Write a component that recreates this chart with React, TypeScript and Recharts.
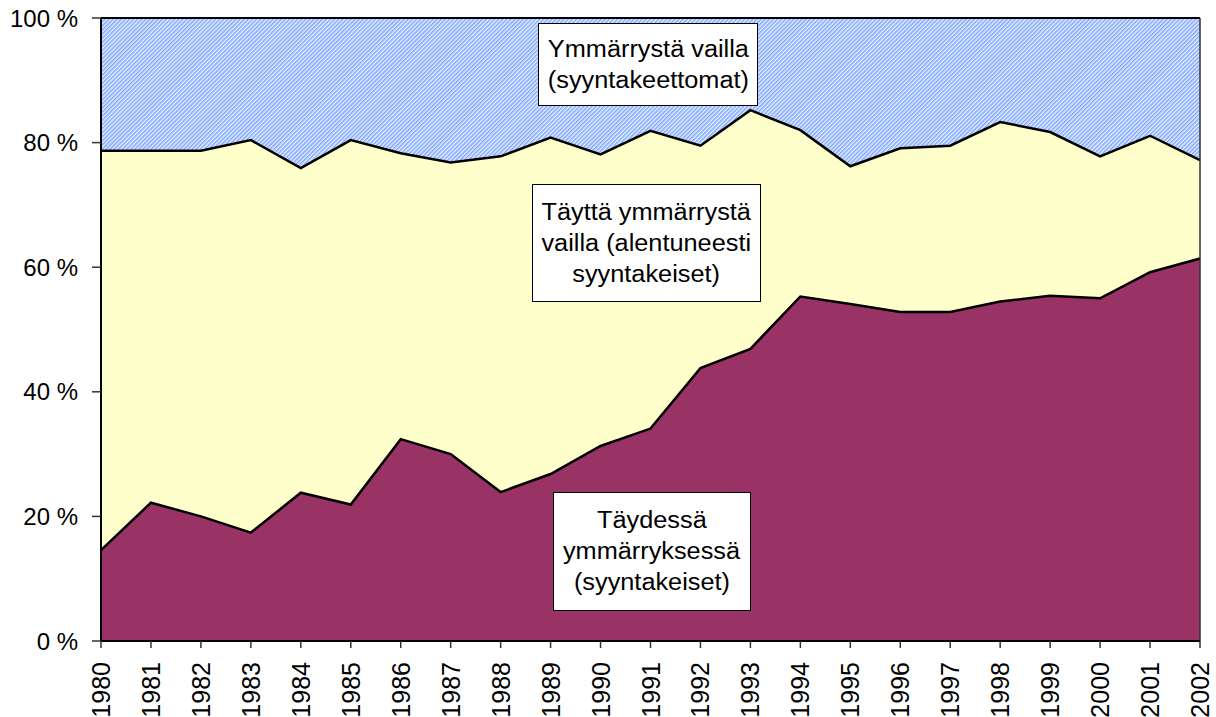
import { ComposedChart, Area, Line, XAxis, YAxis, ReferenceLine } from 'recharts'

const years = ['1980', '1981', '1982', '1983', '1984', '1985', '1986', '1987', '1988', '1989', '1990', '1991',
  '1992', '1993', '1994', '1995', '1996', '1997', '1998', '1999', '2000', '2001', '2002']

// shares in percent, bottom to top
const full = [14.6, 22.2, 20.0, 17.4, 23.8, 21.9, 32.4, 30.0, 23.9, 26.8, 31.3, 34.1, 43.8, 46.9, 55.3, 54.1, 52.8,
  52.8, 54.5, 55.4, 55.0, 59.2, 61.4]
const reduced = [64.1, 56.5, 58.7, 63.0, 52.1, 58.5, 45.9, 46.8, 53.9, 54.0, 46.8, 47.8, 35.7, 38.3, 26.7, 22.1, 26.3,
  26.7, 28.8, 26.3, 22.8, 21.9, 15.8]
const none = [21.3, 21.3, 21.3, 19.6, 24.1, 19.6, 21.7, 23.2, 22.2, 19.2, 21.9, 18.1, 20.5, 14.8, 18.0, 23.8, 20.9,
  20.5, 16.7, 18.3, 22.2, 18.9, 22.8]

const yTicks = [0, 20, 40, 60, 80, 100]

const labels = [
  { lines: ['Ymmärrystä vailla', '(syyntakeettomat)'], left: 538, top: 23, width: 220, height: 83 },
  { lines: ['Täyttä ymmärrystä', 'vailla (alentuneesti', 'syyntakeiset)'], left: 532, top: 184, width: 229, height: 118 },
  { lines: ['Täydessä', 'ymmärryksessä', '(syyntakeiset)'], left: 553, top: 492, width: 198, height: 119 },
]

const data = years.map((year, i) => ({
  year,
  full: full[i],
  reduced: reduced[i],
  none: none[i],
  edge1: full[i],
  edge2: full[i] + reduced[i],
}))

const font = '"Liberation Sans", Arial, sans-serif'

function YearTick({ x, y, payload }: any) {
  return (
    <g transform={`translate(${x},${y})`}>
      <text transform="rotate(-90)" textAnchor="end" dy="0.36em" fontSize={25} fill="#000" fontFamily={font}>
        {payload.value}
      </text>
    </g>
  )
}

export default function App() {
  return (
    <div style={{ position: 'absolute', left: 0, top: 0, width: 1216, height: 717, background: '#fff' }}>
      <ComposedChart width={1216} height={717} data={data} margin={{ top: 18, right: 16, bottom: 0, left: 0 }}>
        <defs>
          <pattern id="hatch" patternUnits="userSpaceOnUse" width={2.9} height={2.9} patternTransform="rotate(45)">
            <rect width={2.9} height={2.9} fill="#CCFFFF" />
            <rect width={1.5} height={2.9} fill="#9999FF" />
          </pattern>
        </defs>
        <XAxis
          dataKey="year"
          height={76}
          interval={0}
          tick={<YearTick />}
          tickSize={7}
          tickMargin={14}
          axisLine={{ stroke: '#000', strokeWidth: 2 }}
          tickLine={{ stroke: '#333', strokeWidth: 1.5 }}
        />
        <YAxis
          width={101}
          domain={[0, 100]}
          ticks={yTicks}
          tickFormatter={(v) => `${v} %`}
          tickSize={9}
          tickMargin={14}
          tick={{ fontSize: 24, fill: '#000', fontFamily: font }}
          axisLine={{ stroke: '#000', strokeWidth: 2 }}
          tickLine={{ stroke: '#333', strokeWidth: 1.5 }}
        />
        <Area type="linear" dataKey="full" stackId="a" fill="#993366" fillOpacity={1} stroke="none" isAnimationActive={false} />
        <Area type="linear" dataKey="reduced" stackId="a" fill="#FFFFCC" fillOpacity={1} stroke="none" isAnimationActive={false} />
        <Area type="linear" dataKey="none" stackId="a" fill="url(#hatch)" fillOpacity={1} stroke="none" isAnimationActive={false} />
        <Line type="linear" dataKey="edge1" stroke="#000" strokeWidth={2.5} dot={false} activeDot={false} isAnimationActive={false} />
        <Line type="linear" dataKey="edge2" stroke="#000" strokeWidth={2.5} dot={false} activeDot={false} isAnimationActive={false} />
        <ReferenceLine y={100} stroke="#000" strokeWidth={2} />
        <ReferenceLine x="2002" stroke="#333" strokeWidth={1.5} />
      </ComposedChart>
      {labels.map((b, i) => (
        <div
          key={i}
          style={{
            position: 'absolute',
            left: b.left,
            top: b.top,
            width: b.width,
            height: b.height,
            boxSizing: 'border-box',
            border: '1px solid #000',
            background: '#fff',
            display: 'flex',
            flexDirection: 'column',
            justifyContent: 'center',
            alignItems: 'center',
            fontFamily: font,
            fontSize: 23,
            lineHeight: '31px',
            color: '#000',
          }}
        >
          {b.lines.map((t) => (
            <span key={t} style={{ display: 'inline-block', whiteSpace: 'nowrap', transform: 'scaleX(1.1)' }}>
              {t}
            </span>
          ))}
        </div>
      ))}
    </div>
  )
}
